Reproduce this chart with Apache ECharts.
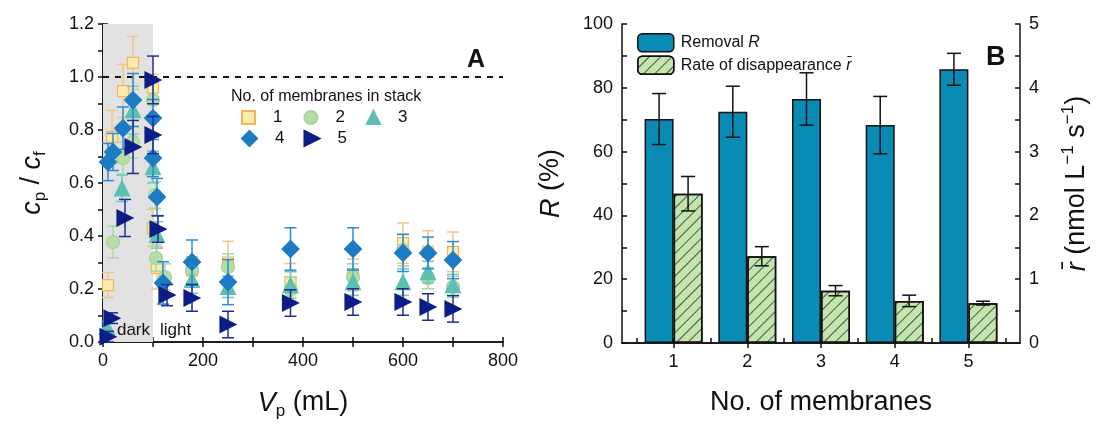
<!DOCTYPE html>
<html>
<head>
<meta charset="utf-8">
<script src="https://cdn.jsdelivr.net/npm/echarts@6/dist/echarts.min.js"></script>
<style>
  html, body { margin: 0; background: #fff; }
  #chart { width: 1098px; height: 427px; }
</style>
</head>
<body>
<div id="chart"></div>
<script>
// panel A: [V_p (mL), c_p/c_f, error] for each number of membranes in the stack
const stack1 = [[10, 0.215, 0.047], [18, 0.774, 0.1], [40, 0.947, 0.1], [60, 1.053, 0.1], [100, 0.96, 0.05],
  [100, 0.43, 0.07], [108, 0.28, 0.08], [178, 0.27, 0.05], [250, 0.3, 0.08], [375, 0.226, 0.07],
  [500, 0.253, 0.06], [600, 0.373, 0.076], [650, 0.34, 0.08], [700, 0.34, 0.075]];
const stack2 = [[20, 0.377, 0.06], [40, 0.694, 0.06], [60, 0.755, 0.06], [100, 0.913, 0.07], [104, 0.555, 0.05],
  [106, 0.317, 0.05], [124, 0.245, 0.05], [178, 0.272, 0.05], [250, 0.283, 0.05], [375, 0.196, 0.05],
  [500, 0.245, 0.05], [600, 0.347, 0.06], [650, 0.241, 0.04], [700, 0.208, 0.04]];
const stack3 = [[8, 0.057, 0.02], [38, 0.58, 0.05], [60, 0.875, 0.09], [100, 0.66, 0.06], [108, 0.404, 0.05],
  [178, 0.234, 0.05], [250, 0.208, 0.04], [375, 0.215, 0.05], [500, 0.226, 0.05], [600, 0.226, 0.05],
  [650, 0.264, 0.04], [700, 0.215, 0.04]];
const stack4 = [[10, 0.679, 0.07], [20, 0.717, 0.07], [40, 0.807, 0.08], [60, 0.913, 0.1], [100, 0.845, 0.07],
  [100, 0.694, 0.07], [108, 0.547, 0.07], [120, 0.223, 0.08], [178, 0.302, 0.083], [250, 0.226, 0.085],
  [375, 0.351, 0.08], [500, 0.351, 0.08], [600, 0.336, 0.07], [650, 0.336, 0.06], [700, 0.309, 0.07]];
const stack5 = [[10, 0.02, 0.02], [18, 0.09, 0.02], [44, 0.468, 0.07], [60, 0.736, 0.1], [100, 0.989, 0.09],
  [100, 0.781, 0.07], [110, 0.426, 0.05], [128, 0.177, 0.04], [178, 0.166, 0.05], [250, 0.066, 0.05],
  [375, 0.147, 0.05], [500, 0.151, 0.05], [600, 0.151, 0.05], [650, 0.132, 0.05], [700, 0.125, 0.05]];

// panel B
const membranes = [1, 2, 3, 4, 5];
const removalR = [70.2, 72.5, 76.5, 68.3, 85.8];
const removalErr = [8, 8, 8.2, 9, 5];
const rateR = [2.34, 1.36, 0.82, 0.66, 0.625];
const rateErr = [0.27, 0.15, 0.08, 0.09, 0.03];

const FONT = "'Liberation Sans', Arial, sans-serif";
const INK = '#111';

const chart = echarts.init(document.getElementById('chart'));

function steps(lo, hi, step) {
  const out = [];
  for (let v = lo; v <= hi + step / 10; v += step) out.push(+v.toFixed(4));
  return out;
}

// vertical error bar with caps, optional pixel shift for grouped bars
function errBar(color, cap, shift) {
  return function (params, api) {
    const x = api.value(0), y = api.value(1), e = api.value(2);
    const hi = api.coord([x, y + e]);
    const lo = api.coord([x, y - e]);
    const px = hi[0] + (shift || 0);
    const st = { stroke: color, lineWidth: 1.5 };
    return {
      type: 'group',
      children: [
        { type: 'line', shape: { x1: px, y1: hi[1], x2: px, y2: lo[1] }, style: st },
        { type: 'line', shape: { x1: px - cap, y1: hi[1], x2: px + cap, y2: hi[1] }, style: st },
        { type: 'line', shape: { x1: px - cap, y1: lo[1], x2: px + cap, y2: lo[1] }, style: st }
      ]
    };
  };
}

const axisLine = { show: true, lineStyle: { color: INK, width: 1.5 } };
// every tick (major and half step) pointing into the plot
function ticks(values) {
  return { show: true, inside: true, length: 5, customValues: values, lineStyle: { color: INK, width: 1.5 } };
}
const labelStyle = { color: INK, fontSize: 18, fontFamily: FONT };
const titleStyle = {
  color: INK, fontSize: 27, fontFamily: FONT,
  rich: {
    i: { fontStyle: 'italic', fontSize: 27, fontFamily: FONT, color: INK, lineHeight: 34 },
    n: { fontSize: 27, fontFamily: FONT, color: INK, lineHeight: 34 },
    sub: { fontSize: 17, fontFamily: FONT, color: INK, verticalAlign: 'bottom', lineHeight: 17 },
    sup: { fontSize: 17, fontFamily: FONT, color: INK, verticalAlign: 'top', lineHeight: 17 }
  }
};

const stacks = [
  { name: '1', data: stack1, symbol: 'rect', size: 11, fill: '#fcebaa', edge: '#f0b65e', err: '#f2c488', z: 3 },
  { name: '2', data: stack2, symbol: 'circle', size: 13, fill: '#b6dda3', edge: '#a3d39a', err: '#a9d8a4', z: 4 },
  { name: '3', data: stack3, symbol: 'triangle', size: 15, fill: '#5cbfb1', edge: '#5cbfb1', err: '#72c8bd', z: 5 },
  { name: '4', data: stack4, symbol: 'diamond', size: 17, fill: '#1b7bc4', edge: '#1b7bc4', err: '#2b8bd4', z: 6 },
  { name: '5', data: stack5, symbol: 'triangle', size: 16, fill: '#0b1e86', edge: '#0b1e86', err: '#1e2c98', z: 7, rotate: -90 }
];

const series = [];

// grey dark period, dotted c_p = c_f line
series.push({
  type: 'line', xAxisIndex: 0, yAxisIndex: 0, data: [], z: 1, silent: true,
  markArea: {
    silent: true,
    itemStyle: { color: '#e2e2e2' },
    data: [[{ xAxis: 0 }, { xAxis: 100 }]]
  },
  markLine: {
    silent: true, symbol: 'none', animation: false,
    label: { show: false },
    lineStyle: { color: INK, width: 2, type: [6, 6] },
    data: [{ yAxis: 1.0 }]
  }
});

stacks.forEach(function (s) {
  series.push({
    type: 'custom', xAxisIndex: 0, yAxisIndex: 0, z: s.z, silent: true,
    renderItem: errBar(s.err, 6, 0),
    encode: { x: 0, y: 1 },
    data: s.data
  });
  series.push({
    type: 'scatter', name: s.name, xAxisIndex: 0, yAxisIndex: 0, z: s.z,
    symbol: s.symbol, symbolSize: s.size, symbolRotate: s.rotate || 0,
    itemStyle: { color: s.fill, borderColor: s.edge, borderWidth: 1.2, opacity: 1 },
    data: s.data.map(function (d) { return [d[0], d[1]]; })
  });
});

// panel B bars
series.push({
  type: 'bar', name: 'Removal R', xAxisIndex: 2, yAxisIndex: 2,
  barWidth: 29, barGap: '0%', z: 2,
  itemStyle: { color: '#0a8bb6', borderColor: INK, borderWidth: 1.5 },
  data: membranes.map(function (m, i) { return [m, removalR[i]]; })
});
series.push({
  type: 'bar', name: 'Rate of disappearance r\u0304', xAxisIndex: 2, yAxisIndex: 3,
  barWidth: 29, barGap: '0%', z: 2,
  itemStyle: {
    color: '#c5e5ae', borderColor: INK, borderWidth: 1.5,
    decal: { symbol: 'rect', symbolSize: 1, dashArrayX: [[1, 0]], dashArrayY: [1, 7], rotation: -Math.PI / 4, color: 'rgba(30,40,30,0.75)' }
  },
  data: membranes.map(function (m, i) { return [m, rateR[i]]; })
});
series.push({
  type: 'custom', xAxisIndex: 2, yAxisIndex: 2, z: 4, silent: true,
  renderItem: errBar(INK, 7, -14.5), encode: { x: 0, y: 1 },
  data: membranes.map(function (m, i) { return [m, removalR[i], removalErr[i]]; })
});
series.push({
  type: 'custom', xAxisIndex: 2, yAxisIndex: 3, z: 4, silent: true,
  renderItem: errBar(INK, 7, 14.5), encode: { x: 0, y: 1 },
  data: membranes.map(function (m, i) { return [m, rateR[i], rateErr[i]]; })
});

const legendText = { color: INK, fontSize: 17, fontFamily: FONT, padding: [0, 0, 0, 13] };

chart.setOption({
  backgroundColor: '#fff',
  animation: false,
  textStyle: { fontFamily: FONT },
  grid: [
    { left: 103, top: 24, width: 400, height: 318 },
    { left: 622, top: 24, width: 398, height: 319 }
  ],
  xAxis: [
    { type: 'value', gridIndex: 0, min: 0, max: 800, interval: 200,
      axisLine: axisLine, axisTick: ticks(steps(0, 800, 100)), splitLine: { show: false },
      axisLabel: Object.assign({ margin: 10 }, labelStyle),
      name: '{i|V}{sub|p}{n| (mL)}', nameLocation: 'middle', nameGap: 44, nameTextStyle: titleStyle },
    { type: 'value', gridIndex: 0, position: 'top', min: 0, max: 800, interval: 200,
      axisLine: axisLine, axisTick: ticks(steps(0, 800, 100)), splitLine: { show: false },
      axisLabel: { show: false } },
    { type: 'value', gridIndex: 1, min: 0.3, max: 5.7,
      axisLine: axisLine, splitLine: { show: false },
      axisTick: ticks(steps(0.5, 5.5, 0.5)),
      axisLabel: Object.assign({ margin: 10, customValues: membranes }, labelStyle),
      name: 'No. of membranes', nameLocation: 'middle', nameGap: 46, nameTextStyle: titleStyle },
    { type: 'value', gridIndex: 1, position: 'top', min: 0.3, max: 5.7,
      axisLine: axisLine, splitLine: { show: false },
      axisTick: ticks(membranes),
      axisLabel: { show: false, customValues: membranes } }
  ],
  yAxis: [
    { type: 'value', gridIndex: 0, min: 0, max: 1.2, interval: 0.2,
      axisLine: axisLine, axisTick: ticks(steps(0, 1.2, 0.1)), splitLine: { show: false },
      axisLabel: Object.assign({ margin: 9, formatter: function (v) { return v.toFixed(1); } }, labelStyle),
      name: '{i|c}{sub|p}{n| / }{i|c}{sub|f}', nameLocation: 'middle', nameGap: 54, nameTextStyle: titleStyle },
    { type: 'value', gridIndex: 0, position: 'right', min: 0, max: 1.2, interval: 0.2,
      axisLine: axisLine, axisTick: ticks(steps(0, 1.2, 0.1)), splitLine: { show: false },
      axisLabel: { show: false } },
    { type: 'value', gridIndex: 1, min: 0, max: 100, interval: 20,
      axisLine: axisLine, axisTick: ticks(steps(0, 100, 10)), splitLine: { show: false },
      axisLabel: Object.assign({ margin: 9 }, labelStyle),
      name: '{i|R}{n| (%)}', nameLocation: 'middle', nameGap: 54, nameTextStyle: titleStyle },
    { type: 'value', gridIndex: 1, position: 'right', min: 0, max: 5, interval: 1,
      axisLine: axisLine, axisTick: ticks(steps(0, 5, 0.5)), splitLine: { show: false },
      axisLabel: Object.assign({ margin: 9 }, labelStyle),
      name: '{i|r\u0304}{n| (nmol L}{sup|\u22121}{n| s}{sup|\u22121}{n|)}', nameLocation: 'middle', nameGap: 40,
      nameTextStyle: titleStyle }
  ],
  legend: [
    { data: [{ name: '1', icon: 'rect' }, { name: '2', icon: 'circle' }, { name: '3', icon: 'triangle' }],
      left: 241, top: 109, padding: 0, itemWidth: 13, itemHeight: 13, itemGap: 21,
      selectedMode: false, textStyle: legendText },
    { data: [{ name: '4', icon: 'diamond' }, { name: '5', icon: 'path://M0,0L10,5L0,10Z' }],
      left: 241, top: 130, padding: 0, itemWidth: 15, itemHeight: 15, itemGap: 19,
      selectedMode: false, textStyle: legendText },
    { data: ['Removal R', 'Rate of disappearance r\u0304'], orient: 'vertical',
      left: 637, top: 33, padding: 0, itemWidth: 36, itemHeight: 18, itemGap: 3,
      selectedMode: false,
      itemStyle: { borderColor: INK, borderWidth: 1.5 },
      formatter: function (name) {
        return name === 'Removal R' ? 'Removal {i|R}' : 'Rate of disappearance {i|r\u0304}';
      },
      textStyle: { color: INK, fontSize: 16, fontFamily: FONT, padding: [0, 0, 0, 2],
        rich: { i: { fontStyle: 'italic', fontSize: 16, fontFamily: FONT, color: INK } } } }
  ],
  graphic: [
    { type: 'text', left: 231, top: 89, style: { text: 'No. of membranes in stack', fill: INK, fontSize: 16, fontFamily: FONT } },
    { type: 'text', left: 467, top: 48, style: { text: 'A', fill: INK, fontSize: 25, fontWeight: 'bold', fontFamily: FONT } },
    { type: 'text', left: 986, top: 44, style: { text: 'B', fill: INK, fontSize: 27, fontWeight: 'bold', fontFamily: FONT } }
  ],
  series: series
});

// "dark" / "light" notes on either side of the lamp switch-on point
const switchPt = chart.convertToPixel({ xAxisIndex: 0, yAxisIndex: 0 }, [100, 0]);
chart.setOption({
  graphic: [
    { type: 'text', id: 'dark', z: 20, x: switchPt[0] - 3, y: switchPt[1] - 3,
      style: { text: 'dark', fill: INK, fontSize: 17, fontFamily: FONT, align: 'right', verticalAlign: 'bottom' } },
    { type: 'text', id: 'light', z: 20, x: switchPt[0] + 7, y: switchPt[1] - 3,
      style: { text: 'light', fill: INK, fontSize: 17, fontFamily: FONT, align: 'left', verticalAlign: 'bottom' } }
  ]
});
</script>
</body>
</html>
